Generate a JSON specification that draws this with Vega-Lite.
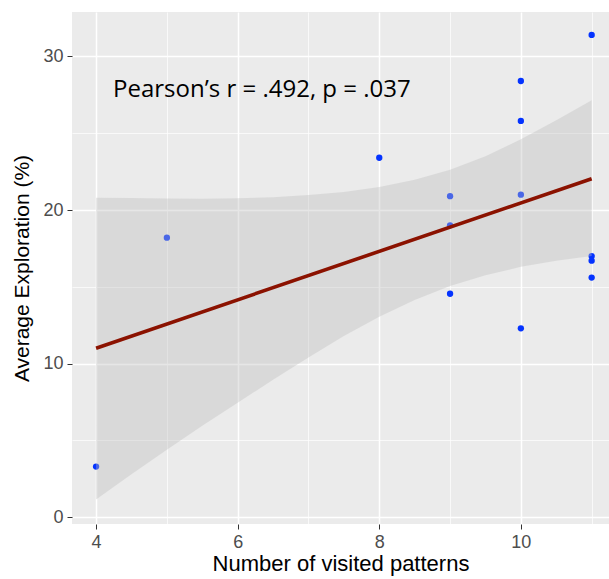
{
  "$schema": "https://vega.github.io/schema/vega-lite/v6.json",
  "width": 537,
  "height": 512,
  "autosize": {"type": "none"},
  "padding": {"left": 72, "top": 12, "right": 0, "bottom": 55},
  "background": "white",
  "config": {
    "view": {"fill": "#EBEBEB", "stroke": null},
    "axis": {
      "domain": false,
      "gridColor": "white",
      "tickColor": "#333333",
      "tickSize": 5,
      "labelColor": "#4D4D4D",
      "labelFont": "Liberation Sans",
      "labelFontSize": 18,
      "titleFont": "Liberation Sans",
      "titleFontWeight": "normal",
      "titleColor": "black"
    }
  },
  "datasets": {
    "pts": [
      {"visited": 4, "exploration": 3.3},
      {"visited": 5, "exploration": 18.2},
      {"visited": 8, "exploration": 23.4},
      {"visited": 9, "exploration": 20.9},
      {"visited": 9, "exploration": 19.0},
      {"visited": 9, "exploration": 14.55},
      {"visited": 10, "exploration": 28.4},
      {"visited": 10, "exploration": 25.8},
      {"visited": 10, "exploration": 21.0},
      {"visited": 10, "exploration": 12.3},
      {"visited": 11, "exploration": 31.4},
      {"visited": 11, "exploration": 17.0},
      {"visited": 11, "exploration": 16.7},
      {"visited": 11, "exploration": 15.6}
    ],
    "band": [
      {"visited": 4, "lower": 1.15, "upper": 20.8},
      {"visited": 4.5, "lower": 2.8, "upper": 20.78},
      {"visited": 5, "lower": 4.4, "upper": 20.75},
      {"visited": 5.5, "lower": 5.95, "upper": 20.74},
      {"visited": 6, "lower": 7.45, "upper": 20.77},
      {"visited": 6.5, "lower": 8.95, "upper": 20.83},
      {"visited": 7, "lower": 10.4, "upper": 20.97},
      {"visited": 7.5, "lower": 11.8, "upper": 21.18},
      {"visited": 8, "lower": 13.05, "upper": 21.5},
      {"visited": 8.5, "lower": 14.15, "upper": 21.97},
      {"visited": 9, "lower": 15.05, "upper": 22.62},
      {"visited": 9.5, "lower": 15.75, "upper": 23.5},
      {"visited": 10, "lower": 16.3, "upper": 24.6},
      {"visited": 10.5, "lower": 16.7, "upper": 25.85},
      {"visited": 11, "lower": 17.0, "upper": 27.15}
    ],
    "fit": [
      {"visited": 4, "fitted": 11.0},
      {"visited": 11, "fitted": 22.04}
    ],
    "note": [
      {"visited": 4.24, "exploration": 27.35, "label": "Pearson’s r = .492, p = .037"}
    ]
  },
  "encoding": {
    "x": {
      "field": "visited",
      "type": "quantitative",
      "scale": {"domain": [3.66, 11.245], "nice": false, "zero": false},
      "axis": {
        "title": "Number of visited patterns",
        "titleFontSize": 22,
        "values": [4, 5, 6, 7, 8, 9, 10, 11],
        "labelExpr": "datum.value % 2 == 0 ? datum.label : ''",
        "tickOpacity": {"condition": {"test": "datum.value % 2 == 1", "value": 0}, "value": 1},
        "gridWidth": {"condition": {"test": "datum.value % 2 == 1", "value": 0.7}, "value": 1.5},
        "labelPadding": 4,
        "titlePadding": 2
      }
    }
  },
  "layer": [
    {
      "data": {"name": "pts"},
      "mark": {"type": "circle", "size": 40, "opacity": 1, "color": "#0433FF"},
      "encoding": {
        "y": {
          "field": "exploration",
          "type": "quantitative",
          "scale": {"domain": [-0.44, 32.89], "nice": false, "zero": false},
          "axis": {
            "title": "Average Exploration (%)",
            "titleFontSize": 21,
            "values": [0, 5, 10, 15, 20, 25, 30],
            "labelExpr": "datum.value % 10 == 0 ? datum.label : ''",
            "tickOpacity": {"condition": {"test": "datum.value % 10 != 0", "value": 0}, "value": 1},
            "gridWidth": {"condition": {"test": "datum.value % 10 != 0", "value": 0.7}, "value": 1.5},
            "labelPadding": 4,
            "titlePadding": 10
          }
        }
      }
    },
    {
      "data": {"name": "band"},
      "mark": {"type": "area", "color": "#BDBDBD", "opacity": 0.38},
      "encoding": {
        "y": {"field": "lower", "type": "quantitative"},
        "y2": {"field": "upper"}
      }
    },
    {
      "data": {"name": "fit"},
      "mark": {"type": "line", "color": "#8B1200", "strokeWidth": 3.6},
      "encoding": {
        "y": {"field": "fitted", "type": "quantitative"}
      }
    },
    {
      "data": {"name": "note"},
      "mark": {"type": "text", "align": "left", "baseline": "alphabetic", "font": "Open Sans", "fontSize": 24, "color": "black"},
      "encoding": {
        "y": {"field": "exploration", "type": "quantitative"},
        "text": {"field": "label"}
      }
    }
  ]
}
